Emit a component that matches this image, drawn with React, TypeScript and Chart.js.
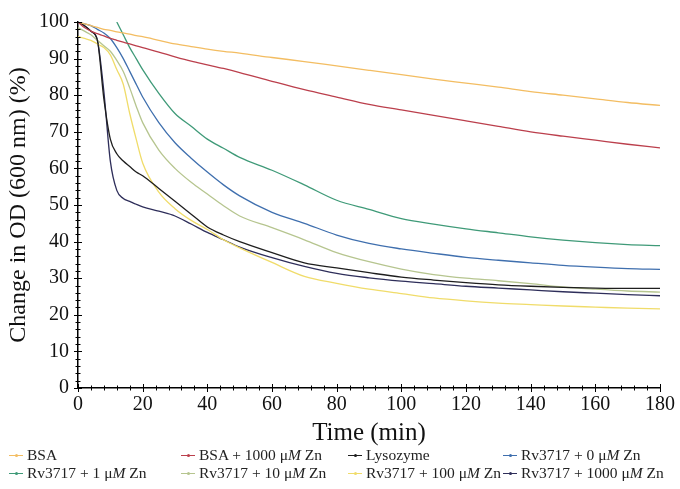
import React, { useEffect, useRef } from 'react';
import { Chart, registerables } from 'chart.js';
Chart.register(...registerables);

// Time points (min)
const TIME = [0, 2, 4, 6, 8, 10, 12, 14, 16, 18, 20, 25, 30, 35, 40, 45, 50, 60, 70, 80, 90, 100, 110, 120, 130, 140, 150, 160, 170, 180];

// Change in OD (600 nm) (%)
const BSA = [100, 99.5, 99, 98.5, 98, 97.7, 97.3, 97, 96.7, 96.3, 96, 95, 94, 93.3, 92.6, 92, 91.5, 90.3, 89.2, 88, 86.8, 85.6, 84.4, 83.3, 82.2, 81, 80, 79, 78, 77.2];
const BSA_ZN1000 = [100, 98.5, 97.5, 96.8, 96.2, 95.5, 95, 94.5, 94, 93.5, 93, 91.8, 90.5, 89.3, 88.3, 87.3, 86.2, 83.8, 81.5, 79.5, 77.5, 76, 74.5, 73, 71.5, 70, 68.8, 67.7, 66.6, 65.6];
const LYSOZYME = [100, 99, 97.5, 95, 79, 68, 64, 62, 60.5, 59, 58, 54.5, 51, 47.5, 44, 41.8, 40, 37, 34.2, 32.8, 31.5, 30.3, 29.5, 28.8, 28.2, 27.8, 27.5, 27.3, 27.2, 27.2];
const RV_ZN0 = [100, 99.5, 99, 98, 97, 95.5, 93, 90, 86.5, 83, 79.5, 72.5, 67, 62.8, 59, 55.5, 52.5, 48, 45, 41.8, 39.5, 38, 36.8, 35.7, 34.9, 34.2, 33.5, 33, 32.6, 32.4];
const RV_ZN1 = [null, null, null, null, null, null, 100, 96.5, 93, 90, 87, 80.5, 75, 71.5, 68, 65.5, 63, 59.5, 55.5, 51.3, 48.8, 46.3, 44.8, 43.5, 42.4, 41.3, 40.4, 39.7, 39.2, 38.9];
const RV_ZN10 = [98.5, 97.5, 96.5, 95, 93.5, 92, 89.5, 86.5, 82, 77, 72.5, 65, 60, 56.2, 53, 49.8, 47, 43.8, 40.5, 37, 34.5, 32.5, 31, 30, 29.3, 28.5, 27.6, 27, 26.5, 26.2];
const RV_ZN100 = [96, 95.5, 95, 94, 93, 91, 87, 83, 75, 68, 61.5, 53.5, 49, 45.8, 43.3, 40.5, 38.3, 34.3, 30.5, 28.6, 27, 25.8, 24.6, 23.8, 23.2, 22.8, 22.4, 22.1, 21.8, 21.6];
const RV_ZN1000 = [100, 99, 97.5, 95, 81, 62, 54, 51.8, 51, 50.2, 49.5, 48.3, 47, 44.8, 42.5, 40.5, 38.5, 35.6, 33.2, 31.3, 30.1, 29.2, 28.5, 27.8, 27.3, 26.8, 26.3, 25.9, 25.5, 25.2];

const X_TICKS = [0, 20, 40, 60, 80, 100, 120, 140, 160, 180];
const Y_TICKS = [0, 10, 20, 30, 40, 50, 60, 70, 80, 90, 100];

const SERIES = [
  { label: 'BSA', conc: false, data: BSA, color: '#f3bd62' },
  { label: 'BSA + 1000', conc: true, data: BSA_ZN1000, color: '#bb3f4c' },
  { label: 'Lysozyme', conc: false, data: LYSOZYME, color: '#1e1e1e' },
  { label: 'Rv3717 + 0', conc: true, data: RV_ZN0, color: '#3f6fae' },
  { label: 'Rv3717 + 1', conc: true, data: RV_ZN1, color: '#3f9a78' },
  { label: 'Rv3717 + 10', conc: true, data: RV_ZN10, color: '#b6c58f' },
  { label: 'Rv3717 + 100', conc: true, data: RV_ZN100, color: '#f0dc6a' },
  { label: 'Rv3717 + 1000', conc: true, data: RV_ZN1000, color: '#2e2e5a' },
];

const SERIF = "'Liberation Serif', 'Times New Roman', serif";

const tickPlugin = {
  id: 'crossTicks',
  afterDraw(chart: any) {
    const ctx = chart.ctx;
    const xs = chart.scales.x;
    const ys = chart.scales.y;
    const { left, bottom } = chart.chartArea;
    ctx.save();
    ctx.strokeStyle = '#000';
    ctx.lineWidth = 1;
    ctx.beginPath();
    for (let v = 0; v <= 180; v += 4) {
      const px = Math.round(xs.getPixelForValue(v)) + 0.5;
      const len = v % 20 === 0 ? 4 : 2.5;
      ctx.moveTo(px, bottom - len);
      ctx.lineTo(px, bottom + len);
    }
    for (let v = 0; v <= 100; v += 2) {
      const py = Math.round(ys.getPixelForValue(v)) + 0.5;
      const len = v % 10 === 0 ? 4 : 2.5;
      ctx.moveTo(left - len, py);
      ctx.lineTo(left + len, py);
    }
    ctx.stroke();
    ctx.restore();
  },
};

function LegendItem({ s, x, y }: { s: any; x: number; y: number }) {
  return (
    <div
      style={{
        position: 'absolute',
        left: x - 18,
        top: y - 9,
        height: 18,
        display: 'flex',
        alignItems: 'center',
        whiteSpace: 'nowrap',
        fontFamily: SERIF,
        fontSize: 15.5,
        color: '#222',
      }}
    >
      <div style={{ position: 'relative', width: 14, height: 1, background: s.color, marginRight: 4 }}>
        <div
          style={{
            position: 'absolute',
            left: 5.5,
            top: -1,
            width: 3,
            height: 3,
            borderRadius: 2,
            background: s.color,
          }}
        />
      </div>
      <span>
        {s.label}
        {s.conc ? (
          <>
            {' \u03bc'}
            <i>M</i>
            {' Zn'}
          </>
        ) : null}
      </span>
    </div>
  );
}

export default function App() {
  const ref = useRef<HTMLCanvasElement>(null);

  useEffect(() => {
    if (!ref.current) return;
    const chart = new Chart(ref.current, {
      type: 'line',
      data: {
        labels: TIME,
        datasets: SERIES.map((s) => ({
          label: s.conc ? `${s.label} \u03bcM Zn` : s.label,
          data: TIME.map((t, i) => ({ x: t, y: s.data[i] as any })),
          borderColor: s.color,
          backgroundColor: s.color,
          borderWidth: 1.3,
          pointRadius: 0,
          cubicInterpolationMode: 'monotone',
          fill: false,
          spanGaps: false,
        })),
      },
      options: {
        animation: false,
        responsive: false,
        maintainAspectRatio: false,
        layout: { padding: { top: 22, right: 18, bottom: 37, left: 0 } },
        plugins: {
          legend: { display: false },
          tooltip: { enabled: false },
        },
        scales: {
          x: {
            type: 'linear',
            min: 0,
            max: 180,
            afterBuildTicks: (scale: any) => {
              scale.ticks = X_TICKS.map((v) => ({ value: v }));
            },
            afterFit: (scale: any) => {
              scale.height = 64;
            },
            grid: { display: false, drawTicks: false, tickLength: 0 },
            border: { display: true, color: '#000', width: 1.5 },
            ticks: {
              padding: 5,
              color: '#111',
              font: { family: SERIF, size: 20 },
              maxRotation: 0,
            },
            title: {
              display: true,
              text: 'Time (min)',
              color: '#111',
              font: { family: SERIF, size: 25 },
              padding: { top: 0, bottom: 4 },
            },
          },
          y: {
            type: 'linear',
            min: 0,
            max: 100,
            afterBuildTicks: (scale: any) => {
              scale.ticks = Y_TICKS.map((v) => ({ value: v }));
            },
            afterFit: (scale: any) => {
              scale.width = 78;
            },
            grid: { display: false, drawTicks: false, tickLength: 0 },
            border: { display: true, color: '#000', width: 1.5 },
            ticks: {
              padding: 9,
              color: '#111',
              font: { family: SERIF, size: 20 },
            },
            title: {
              display: true,
              text: 'Change in OD (600 nm) (%)',
              color: '#111',
              font: { family: SERIF, size: 24 },
              padding: { top: 4, bottom: 0 },
            },
          },
        },
      },
      plugins: [tickPlugin],
    });
    return () => chart.destroy();
  }, []);

  const cols = [27, 199, 366, 521];
  const rows = [455, 473];

  return (
    <div style={{ position: 'fixed', left: 0, top: 0, width: 680, height: 489, background: '#fff', overflow: 'hidden' }}>
      <canvas ref={ref} width={680} height={489} style={{ display: 'block', width: 680, height: 489 }} />
      {SERIES.map((s, i) => (
        <LegendItem key={i} s={s} x={cols[i % 4]} y={rows[Math.floor(i / 4)]} />
      ))}
    </div>
  );
}
